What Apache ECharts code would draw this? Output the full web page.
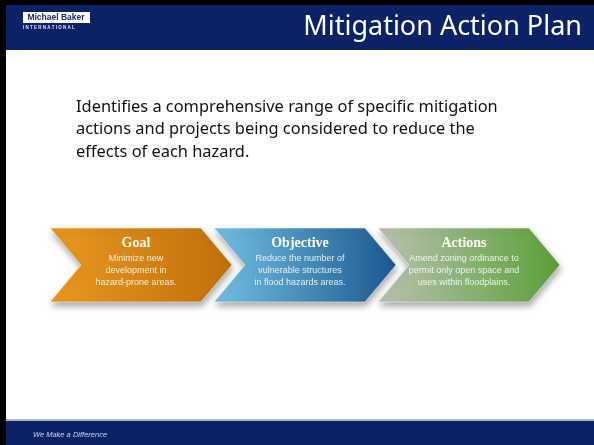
<!DOCTYPE html>
<html>
<head>
<meta charset="utf-8">
<script src="https://cdn.jsdelivr.net/npm/echarts@6/dist/echarts.min.js"></script>
<style>
  html, body { margin: 0; padding: 0; background: #fff; }
  #chart { width: 594px; height: 445px; }
</style>
</head>
<body>
<div id="chart"></div>
<script>
// slide text
const slideTitle = 'Mitigation Action Plan'
const logoName = 'Michael Baker'
const logoSub = 'INTERNATIONAL'
const footerText = 'We Make a Difference'
const introLines = [
  'Identifies a comprehensive range of specific mitigation',
  'actions and projects being considered to reduce the',
  'effects of each hazard.',
]

// process steps (one chevron each)
const steps = ['Goal', 'Objective', 'Actions']
const stepLines = [
  ['Minimize new', 'development in', 'hazard-prone areas.'],
  ['Reduce the number of', 'vulnerable structures', 'in flood hazards areas.'],
  ['Amend zoning ordinance to', 'permit only open space and', 'uses within floodplains.'],
]
const stepColors = [
  ['#e9981f', '#c06f0c'],
  ['#72c0e2', '#1a5890'],
  ['#b8c2b0', '#5aa036'],
]

const navy = '#0b2266'
const chart = echarts.init(document.getElementById('chart'))

// 画一个箭头（chevron）
const renderStep = (params, api) => {
  const i = api.value(0)
  const band = api.size([1, 0])[0]
  const cx = api.coord([i, 0])[0]
  const top = api.coord([i, 1])[1]
  const bottom = api.coord([i, 0])[1]
  const mid = (top + bottom) / 2
  const x0 = cx - band / 2
  const depth = 31
  const w = band + 18
  const points = [
    [x0, top],
    [x0 + w - depth, top],
    [x0 + w, mid],
    [x0 + w - depth, bottom],
    [x0, bottom],
    [x0 + depth, mid],
  ]
  const c = stepColors[i]
  const tx = x0 + 86
  const children = [
    {
      type: 'polygon',
      shape: { points },
      style: {
        fill: new echarts.graphic.LinearGradient(0, 0, 1, 0, [
          { offset: 0, color: c[0] },
          { offset: 1, color: c[1] },
        ]),
        stroke: 'rgba(255,255,255,0.5)',
        lineWidth: 1,
        shadowColor: 'rgba(0,0,0,0.35)',
        shadowBlur: 7,
        shadowOffsetY: 4,
        shadowOffsetX: 1,
      },
    },
    {
      type: 'text',
      style: {
        text: steps[i],
        x: tx,
        y: top + 15,
        align: 'center',
        verticalAlign: 'middle',
        fill: '#fffdf5',
        font: 'bold 14px "Liberation Serif"',
      },
    },
  ]
  stepLines[i].forEach((line, k) => {
    children.push({
      type: 'text',
      style: {
        text: line,
        x: tx,
        y: top + 31 + k * 12,
        align: 'center',
        verticalAlign: 'middle',
        fill: 'rgba(255,255,255,0.85)',
        font: '9px "Liberation Sans"',
      },
    })
  })
  return { type: 'group', children }
}

const options = {
  animation: false,
  grid: { left: 50, right: 52, top: 228, bottom: 143 },
  xAxis: { type: 'category', data: steps, show: false },
  yAxis: { type: 'value', min: 0, max: 1, show: false },
  graphic: [
    // black border + header
    { type: 'rect', shape: { x: 0, y: 0, width: 594, height: 50 }, style: { fill: '#000' } },
    { type: 'rect', shape: { x: 0, y: 0, width: 6, height: 445 }, style: { fill: '#000' } },
    { type: 'rect', shape: { x: 6, y: 5, width: 588, height: 45 }, style: { fill: navy } },
    { type: 'rect', shape: { x: 23, y: 12, width: 67, height: 11 }, style: { fill: '#fff' } },
    {
      type: 'text',
      style: { text: logoName, x: 56, y: 17.5, align: 'center', verticalAlign: 'middle', fill: '#1a2a6a', font: 'bold 8.5px "Liberation Sans"' },
    },
    {
      type: 'text',
      style: { text: logoSub.split('').join(' '), x: 23, y: 28, verticalAlign: 'middle', fill: '#dfe6f5', font: 'bold 4.5px "Liberation Sans"' },
    },
    {
      type: 'text',
      style: { text: slideTitle, x: 582, y: 27, align: 'right', verticalAlign: 'middle', fill: '#fff', font: '27px "Noto Sans"' },
    },
    // intro paragraph
    ...introLines.map((line, k) => ({
      type: 'text',
      style: { text: line, x: 76, y: 107 + k * 22.5, verticalAlign: 'middle', fill: '#111', font: '16.4px "Noto Sans"' },
    })),
    // footer
    { type: 'rect', shape: { x: 6, y: 419, width: 588, height: 2 }, style: { fill: '#a8b5cc' } },
    { type: 'rect', shape: { x: 6, y: 421, width: 588, height: 24 }, style: { fill: navy } },
    {
      type: 'text',
      style: { text: footerText, x: 33, y: 435, verticalAlign: 'middle', fill: '#c9d4ec', font: 'italic 7.5px "Liberation Sans"' },
    },
  ],
  series: [
    {
      type: 'custom',
      renderItem: renderStep,
      data: steps.map((s, i) => [i, 1]),
      silent: true,
    },
  ],
}

chart.setOption(options)
</script>
</body>
</html>
